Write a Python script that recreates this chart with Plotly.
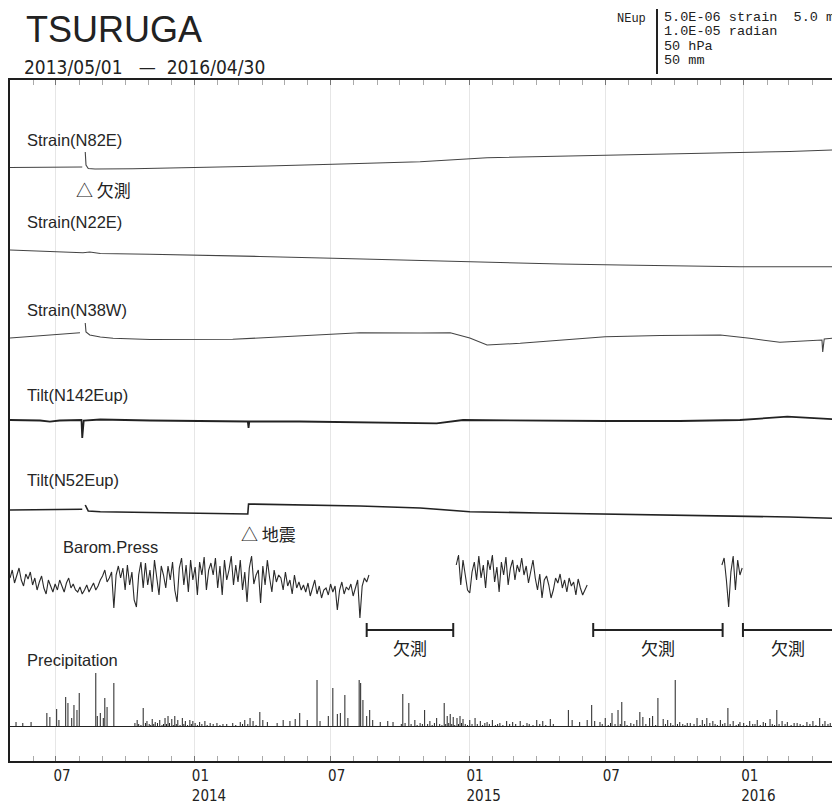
import pandas as pd
import plotly.graph_objects as go

START = "2013-05-01"
END = "2016-04-30"

# ---------------- data ----------------
# Strain N82E, deviation in 1e-6 strain
n82e_date = ["2013-05-01", "2013-06-10", "2013-08-05", "2013-08-07", "2013-08-09", "2013-08-10",
             "2013-08-13", "2013-08-22", "2013-10-11", "2014-01-08", "2014-04-08", "2014-07-04",
             "2014-10-28", "2015-01-25", "2015-04-19", "2015-07-01", "2015-10-12", "2015-12-27",
             "2016-03-02", "2016-04-30"]
n82e_val = [0.05, 0.05, 0.1, None, 1.6, 0.3, -0.05, -0.1, -0.07, 0.05, 0.2, 0.37,
            0.63, 1.03, 1.15, 1.23, 1.4, 1.53, 1.65, 1.8]

# Strain N22E
n22e_date = ["2013-05-01", "2013-06-23", "2013-08-06", "2013-08-15", "2013-08-29", "2013-11-03",
             "2014-01-08", "2014-03-29", "2014-07-04", "2014-10-28", "2014-12-24", "2015-03-10",
             "2015-05-02", "2015-07-21", "2015-10-08", "2015-12-27", "2016-04-30"]
n22e_val = [0.0, -0.15, -0.27, -0.2, -0.35, -0.42, -0.5, -0.65, -0.83, -1.07, -1.12, -1.33,
            -1.4, -1.5, -1.6, -1.67, -1.67]

# Strain N38W
n38w_date = ["2013-05-01", "2013-06-10", "2013-08-02", "2013-08-05", "2013-08-09", "2013-08-10",
             "2013-08-15", "2013-08-29", "2013-09-15", "2013-11-03", "2014-02-21", "2014-05-21",
             "2014-08-09", "2014-10-28", "2014-12-07", "2015-01-02", "2015-01-25", "2015-03-10",
             "2015-05-02", "2015-07-01", "2015-09-12", "2015-12-01", "2016-01-09", "2016-02-18",
             "2016-04-14", "2016-04-15", "2016-04-17", "2016-04-30"]
n38w_val = [-0.3, -0.1, 0.23, None, 1.2, 0.3, 0.0, -0.2, -0.33, -0.45, -0.43, -0.1,
            0.23, 0.2, 0.23, -0.3, -1.0, -0.83, -0.5, -0.17, -0.05, 0.0, -0.33, -0.73,
            -0.5, -1.7, -0.4, -0.3]

# Tilt N142E up, 1e-6 radian
t142_date = ["2013-05-01", "2013-06-10", "2013-06-23", "2013-07-06", "2013-08-04", "2013-08-05",
             "2013-08-07", "2013-08-29", "2013-11-03", "2014-01-08", "2014-03-13", "2014-03-14",
             "2014-03-15", "2014-05-21", "2014-08-09", "2014-10-28", "2014-11-19", "2014-12-24",
             "2015-03-10", "2015-07-01", "2015-10-08", "2015-12-27", "2016-02-28", "2016-04-30"]
t142_val = [0.0, -0.1, -0.34, -0.1, 0.0, -3.6, -0.1, 0.1, -0.1, -0.2, -0.3, -1.6,
            -0.3, -0.3, -0.4, -0.54, -0.66, 0.0, -0.1, -0.2, -0.2, 0.0, 0.66, 0.14]

# Tilt N52E up
t52_date = ["2013-05-01", "2013-06-23", "2013-08-05", "2013-08-06", "2013-08-09", "2013-08-13",
            "2013-08-29", "2013-11-03", "2014-01-08", "2014-03-13", "2014-03-14", "2014-05-21",
            "2014-08-09", "2014-10-28", "2015-01-02", "2015-04-05", "2015-07-01", "2015-10-08",
            "2015-12-27", "2016-03-02", "2016-04-30"]
t52_val = [0.0, 0.1, 0.14, None, 1.0, -0.2, -0.34, -0.5, -0.66, -0.8, 1.2, 1.0,
           0.8, 0.4, -0.34, -0.6, -0.8, -1.0, -1.2, -1.4, -1.66]

# Barometric pressure (hPa), one value every 3 days in three recorded stretches
press_start = ["2013-05-01", "2014-12-15", "2015-12-03"]
press_seg1 = [1015, 1023, 1010, 1018, 1025, 1013, 1007, 1019, 1014, 1021,
              1008, 1015, 1003, 1011, 1017, 1005, 999, 1013, 1007, 1001,
              1009, 1003, 1013, 1007, 1001, 1010, 1015, 1005, 1009, 1003,
              1001, 1006, 999, 1003, 1008, 1001, 1005, 1010, 1003, 1007,
              1013, 1017, 1023, 1011, 1015, 1021, 985, 1018, 1027, 1015,
              1025, 1003, 1028, 1008, 1021, 993, 986, 1018, 1031, 1005,
              1030, 1008, 1023, 1001, 1033, 1013, 998, 1027, 1018, 1005,
              1027, 1013, 1031, 1003, 991, 1025, 1035, 1008, 1028, 1001,
              1033, 1013, 1026, 998, 1031, 1018, 1036, 1003, 1023, 1030,
              1018, 1035, 1005, 1027, 998, 1033, 1013, 1023, 1037, 1008,
              1028, 1011, 1033, 1003, 1021, 991, 1025, 1037, 1009, 1018,
              1023, 990, 1027, 1008, 1033, 1015, 1001, 1023, 1011, 1018,
              1015, 1003, 1021, 1007, 1013, 999, 1018, 1005, 1011, 1003,
              1008, 1001, 1010, 997, 1005, 1013, 999, 1007, 995, 1003,
              1005, 998, 1009, 1001, 1007, 983, 1003, 1011, 999, 1006,
              1003, 1009, 997, 1005, 1013, 975, 1007, 1015, 1011, 1018]
press_seg2 = [1028, 1038, 1008, 1033, 1018, 1003, 1000, 1021, 1031, 1013,
              1037, 1015, 1028, 1005, 1033, 1023, 1038, 1011, 1026, 1001,
              1031, 1018, 1036, 1008, 1025, 1033, 1013, 1028, 1021, 1035,
              1018, 1027, 1010, 1023, 1033, 1015, 1003, 1019, 995, 1013,
              1017, 1008, 995, 1003, 1015, 1010, 1019, 1005, 1013, 1001,
              1015, 1007, 1011, 998, 1014, 1005, 998, 1003, 1008]
press_seg3 = [1028, 1035, 1013, 986, 1021, 1037, 1003, 1033, 1018, 1025]

# Precipitation (mm/day): day number counted from 2013-05-01, and amount
precip_day = [8, 17, 28, 49, 53, 62, 65, 74, 77, 82, 85, 89, 92, 114, 116, 120, 124, 126, 129, 138,
              166, 169, 177, 182, 189, 193, 199, 206, 210, 215, 219, 223, 229, 233, 239, 243, 252,
              259, 266, 275, 283, 296, 306, 312, 319, 323, 332, 336, 342, 355, 363, 372, 379, 385,
              395, 408, 412, 423, 429, 435, 439, 445, 449, 464, 466, 469, 474, 478, 482, 492, 502,
              509, 522, 530, 538, 551, 558, 567, 577, 581, 585, 589, 594, 598, 602, 611, 618, 625,
              634, 641, 651, 660, 668, 678, 687, 700, 708, 718, 742, 747, 757, 767, 773, 777, 784,
              791, 800, 808, 813, 817, 833, 837, 841, 850, 854, 861, 868, 874, 884, 890, 900, 913,
              920, 926, 934, 944, 954, 961, 970, 983, 993, 1001, 1010, 1019, 1026, 1033, 1046,
              1059, 1067, 1076, 1083, 1090]
precip_mm = [4, 3, 4, 13, 9, 17, 6, 29, 23, 8, 21, 16, 33, 53, 10, 13, 8, 28, 19, 43,
             3, 6, 18, 5, 7, 4, 6, 8, 10, 7, 10, 6, 8, 5, 6, 5, 4,
             5, 3, 3, 2, 3, 4, 6, 8, 5, 14, 6, 4, 3, 6, 5, 7, 13,
             6, 46, 5, 10, 38, 12, 13, 31, 8, 46, 43, 26, 10, 16, 6, 4, 5,
             4, 32, 23, 6, 16, 5, 8, 23, 10, 12, 9, 8, 10, 7, 6, 8, 5,
             4, 6, 3, 5, 4, 5, 3, 6, 5, 7, 16, 6, 4, 6, 21, 5, 4,
             8, 13, 16, 24, 5, 6, 14, 9, 8, 10, 28, 7, 6, 46, 4, 3, 8,
             6, 8, 5, 6, 18, 5, 4, 5, 6, 4, 7, 16, 5, 4, 3,
             4, 5, 8, 5, 3]
# light-rain days that form the dense "grass" along the baseline
light_day = [171, 174, 180, 185, 187, 191, 196, 202, 204, 208, 212, 217, 221, 226, 231, 236, 241,
             246, 249, 255, 262, 270, 279, 288, 300, 309, 316, 327,
             520, 525, 533, 541, 545, 548, 555, 561, 564, 571, 574, 579, 583, 587, 591, 596, 600,
             605, 608, 614, 621, 628, 631, 637, 645, 648, 655, 664, 672, 682, 690, 695, 704, 712, 722,
             787, 795, 798, 804, 811, 820, 825, 829, 845, 858, 871, 878, 881, 887, 894, 897, 904,
             909, 917, 923, 930, 937, 940, 947, 950, 957, 965, 968, 975, 979, 987, 990, 997, 1004,
             1013, 1016, 1022, 1030, 1038, 1042, 1050, 1054, 1063, 1071, 1080, 1087, 1093]
light_mm = [2, 1, 3, 2, 1, 2, 3, 1, 2, 2, 3, 1, 2, 1, 2, 1, 2, 3, 1, 2, 1, 2, 1, 2, 1, 2, 2, 1,
            2, 3, 2, 1, 3, 2, 2, 1, 3, 2, 1, 2, 3, 2, 1, 2, 3, 2, 1, 2, 2, 1, 3, 2, 1, 2, 1, 2,
            2, 1, 2, 1, 2, 1, 2,
            2, 1, 3, 2, 2, 1, 3, 2, 2, 1, 2, 3, 1, 2, 2, 1, 3, 2, 1, 2, 3, 2, 1, 2, 3, 2, 1, 2,
            3, 1, 2, 2, 1, 3, 2, 1, 2, 2, 1, 3, 2, 1, 2, 1, 2, 2, 1]

# Missing-data stretches of the pressure record
gap_start = ["2014-08-18", "2015-06-15", "2015-12-31"]
gap_end = ["2014-12-11", "2015-12-04", "2016-04-30"]

tick_vals = ["2013-07-01", "2014-01-01", "2014-07-01", "2015-01-01", "2015-07-01", "2016-01-01"]
tick_text = ["07", "01<br>2014", "07", "01<br>2015", "07", "01<br>2016"]

# ---------------- layout helpers ----------------
# the page body adds an 8 px margin, so the figure is 8 px smaller and all
# positions below are given in the coordinates of the 840x805 window.
OFF = 8
W, H = 840 - OFF, 805 - OFF
PL, PR, PT, PB = 10, 834, 80, 761            # plot frame in window pixels
ML, MR, MT, MB = PL - OFF, W - (PR - OFF), PT - OFF, H - (PB - OFF)
PH = PB - PT
PW = PR - PL


def yrange(v0, p, s):
    """axis range so that value v0 sits at window row p, with s px per unit"""
    return [v0 - (PB - p) / s, v0 + (p - PT) / s]


def py(p):
    return (PB - p) / PH


def px(x):
    return (x - PL) / PW


fig = go.Figure()

LABEL_FONT = dict(family="Liberation Sans, Arial, sans-serif", size=16.5, color="#262626")
CJK_FONT = dict(family="Noto Sans CJK JP, sans-serif", size=17, color="#222")
NARROW = "Liberation Sans Narrow, DejaVu Sans Condensed, Arial Narrow, Liberation Sans, sans-serif"

series = [
    (n82e_date, n82e_val, "y", "#444", 1.1),
    (n22e_date, n22e_val, "y2", "#444", 1.1),
    (n38w_date, n38w_val, "y3", "#444", 1.1),
    (t142_date, t142_val, "y4", "#222", 1.8),
    (t52_date, t52_val, "y5", "#222", 1.6),
]
for d, v, ax, c, w in series:
    fig.add_trace(go.Scatter(x=pd.to_datetime(d), y=v, yaxis=ax, mode="lines",
                             line=dict(color=c, width=w), connectgaps=False,
                             showlegend=False, hoverinfo="skip"))

# pressure
px_, py_ = [], []
for st, seg in zip(press_start, [press_seg1, press_seg2, press_seg3]):
    dates = pd.date_range(st, periods=len(seg), freq="3D")
    px_ += list(dates) + [None]
    py_ += list(seg) + [None]
fig.add_trace(go.Scatter(x=px_, y=py_, yaxis="y6", mode="lines",
                         line=dict(color="#2a2a2a", width=1.1), connectgaps=False,
                         showlegend=False, hoverinfo="skip"))

# precipitation sticks
t0 = pd.Timestamp(START)
sx, sy = [], []
for dd, mm in zip(precip_day + light_day, precip_mm + light_mm):
    t = t0 + pd.Timedelta(days=dd)
    sx += [t, t, None]
    sy += [0, mm, None]
fig.add_trace(go.Scatter(x=sx, y=sy, yaxis="y7", mode="lines",
                         line=dict(color="#222", width=1),
                         showlegend=False, hoverinfo="skip"))

# missing-data brackets on the pressure panel
BR_Y, CAP = 963, 7
for a, b in zip(gap_start, gap_end):
    fig.add_shape(type="line", xref="x", yref="y6", x0=a, x1=b, y0=BR_Y, y1=BR_Y,
                  line=dict(color="#222", width=2))
    for e in (a, b):
        fig.add_shape(type="line", xref="x", yref="y6", x0=e, x1=e, y0=BR_Y - CAP, y1=BR_Y + CAP,
                      line=dict(color="#222", width=2))
    mid = pd.Timestamp(a) + (pd.Timestamp(b) - pd.Timestamp(a)) / 2
    fig.add_annotation(x=mid, y=BR_Y - 17, xref="x", yref="y6", text="欠測", showarrow=False,
                       font=CJK_FONT, xanchor="center", yanchor="middle")

# trace labels
labels = [("Strain(N82E)", 25, 140), ("Strain(N22E)", 25, 222), ("Strain(N38W)", 25, 310),
          ("Tilt(N142Eup)", 25, 395), ("Tilt(N52Eup)", 25, 480), ("Barom.Press", 61, 547),
          ("Precipitation", 25, 660)]
for t, x, y in labels:
    fig.add_annotation(x=px(x), y=py(y), xref="paper", yref="paper", text=t, showarrow=False,
                       font=LABEL_FONT, xanchor="left", yanchor="middle")

# event marks
fig.add_annotation(x="2013-08-05", y=-2.1, xref="x", yref="y", text="△ 欠測", showarrow=False,
                   font=CJK_FONT, xanchor="left", yanchor="middle", xshift=-8)
fig.add_annotation(x="2014-03-14", y=-4.6, xref="x", yref="y5", text="△ 地震", showarrow=False,
                   font=CJK_FONT, xanchor="left", yanchor="middle", xshift=-10)

# title block
fig.add_annotation(x=px(24), y=py(29), xref="paper", yref="paper", text="TSURUGA", showarrow=False,
                   font=dict(family="Liberation Sans, Arial, sans-serif", size=36, color="#222"),
                   xanchor="left", yanchor="middle")
fig.add_annotation(x=px(22), y=py(67), xref="paper", yref="paper",
                   text="2013/05/01 &nbsp; — &nbsp;2016/04/30", showarrow=False,
                   font=dict(family=NARROW, size=19, color="#222"), xanchor="left", yanchor="middle")

# scale box
MONO = dict(family="Liberation Mono, DejaVu Sans Mono, monospace", size=13.5, color="#222")
fig.add_annotation(x=px(648), y=py(19), xref="paper", yref="paper", text="NEup", showarrow=False,
                   font=dict(family="Liberation Mono, DejaVu Sans Mono, monospace", size=12, color="#222"),
                   xanchor="right", yanchor="middle")
fig.add_shape(type="line", xref="paper", yref="paper", x0=px(657), x1=px(657), y0=py(9), y1=py(74),
              line=dict(color="#222", width=2))
scale_lines = ["5.0E-06 strain  5.0 m", "1.0E-05 radian", "50 hPa", "50 mm"]
for i, s in enumerate(scale_lines):
    fig.add_annotation(x=px(662), y=py(18 + 14 * i), xref="paper", yref="paper",
                       text=s.replace(" ", "&nbsp;"), showarrow=False, font=MONO,
                       xanchor="left", yanchor="middle")

hidden = dict(domain=[0, 1], anchor="x", overlaying="y", fixedrange=True,
              showticklabels=False, ticks="", showgrid=False, showline=False,
              zeroline=False, automargin=False)
fig.update_layout(
    template="none",
    width=W, height=H,
    margin=dict(l=ML, r=MR, t=MT, b=MB, pad=0, autoexpand=False),
    paper_bgcolor="white", plot_bgcolor="white",
    showlegend=False,
    xaxis=dict(range=[START, END], type="date", tickmode="array", tickvals=tick_vals,
               ticktext=tick_text, ticks="inside", ticklen=5, tickcolor="#777",
               ticklabelposition="outside right", ticklabelshift=-4, automargin=False,
               tickfont=dict(family=NARROW, size=15, color="#222"),
               showgrid=True, gridcolor="#e6e6e6", gridwidth=1,
               showline=True, linecolor="#1e1e1e", linewidth=2, mirror="allticks",
               minor=dict(tickmode="linear", tick0="2013-05-01", dtick="M1", ticks="inside",
                          ticklen=3, tickcolor="#aaa", showgrid=False),
               zeroline=False),
    yaxis=dict(range=yrange(0, 168, 10), domain=[0, 1], showline=True, linecolor="#1e1e1e",
               linewidth=2, mirror=True, showticklabels=False, ticks="", showgrid=False,
               zeroline=False, fixedrange=True, automargin=False),
    yaxis2=dict(range=yrange(0, 250, 10), **hidden),
    yaxis3=dict(range=yrange(0, 335, 10), **hidden),
    yaxis4=dict(range=yrange(0, 420, 5), **hidden),
    yaxis5=dict(range=yrange(0, 510, 5), **hidden),
    yaxis6=dict(range=yrange(1013, 580, 1), **hidden),
    yaxis7=dict(range=yrange(0, 726, 1), domain=[0, 1], anchor="x", overlaying="y",
                showticklabels=False, ticks="", showgrid=False, showline=False, automargin=False,
                zeroline=True, zerolinecolor="#222", zerolinewidth=1, fixedrange=True),
)

fig.write_html("out.html")
